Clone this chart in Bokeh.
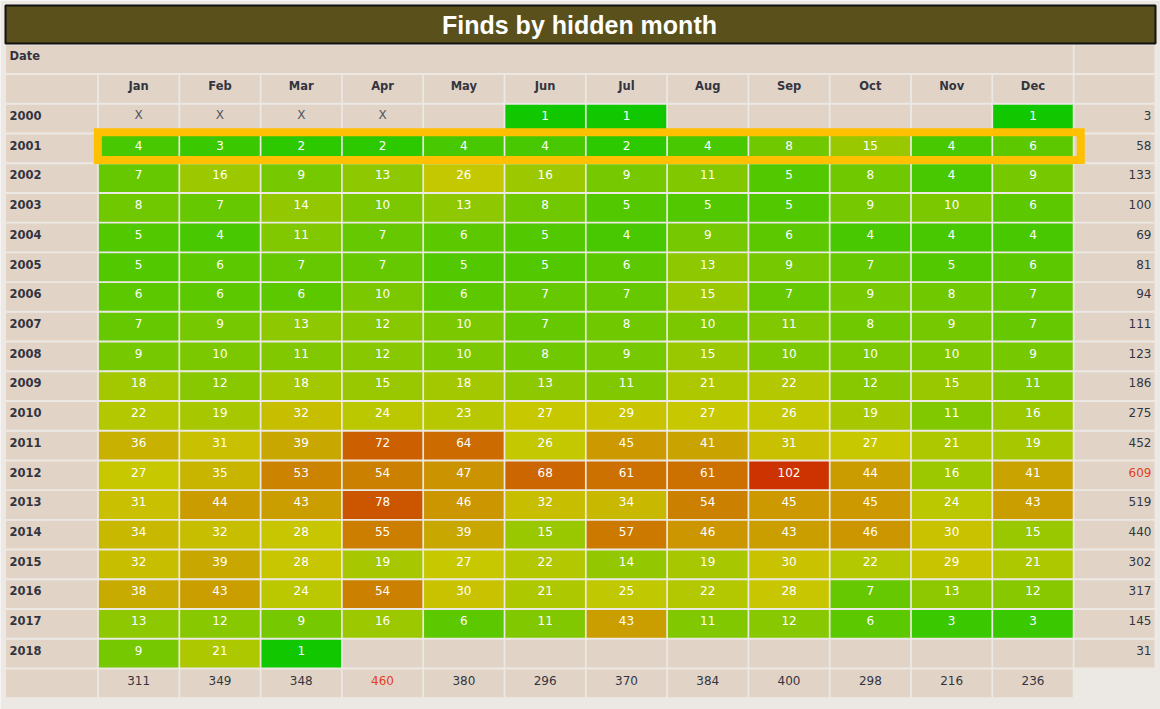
import numpy as np
from bokeh.plotting import figure
from bokeh.models import ColumnDataSource, Range1d, LinearColorMapper
from bokeh.core.properties import value
from bokeh.embed import file_html
from bokeh.resources import INLINE

# ---------------- data ----------------
chart_title = "Finds by hidden month"
corner_label = "Date"
months = ["Jan", "Feb", "Mar", "Apr", "May", "Jun", "Jul", "Aug", "Sep", "Oct", "Nov", "Dec"]
years = ["2000", "2001", "2002", "2003", "2004", "2005", "2006", "2007", "2008", "2009",
         "2010", "2011", "2012", "2013", "2014", "2015", "2016", "2017", "2018"]
# None = no finds, "X" = not possible (before start)
finds_2000 = ["X", "X", "X", "X", None, 1, 1, None, None, None, None, 1]
finds_2001 = [4, 3, 2, 2, 4, 4, 2, 4, 8, 15, 4, 6]
finds_2002 = [7, 16, 9, 13, 26, 16, 9, 11, 5, 8, 4, 9]
finds_2003 = [8, 7, 14, 10, 13, 8, 5, 5, 5, 9, 10, 6]
finds_2004 = [5, 4, 11, 7, 6, 5, 4, 9, 6, 4, 4, 4]
finds_2005 = [5, 6, 7, 7, 5, 5, 6, 13, 9, 7, 5, 6]
finds_2006 = [6, 6, 6, 10, 6, 7, 7, 15, 7, 9, 8, 7]
finds_2007 = [7, 9, 13, 12, 10, 7, 8, 10, 11, 8, 9, 7]
finds_2008 = [9, 10, 11, 12, 10, 8, 9, 15, 10, 10, 10, 9]
finds_2009 = [18, 12, 18, 15, 18, 13, 11, 21, 22, 12, 15, 11]
finds_2010 = [22, 19, 32, 24, 23, 27, 29, 27, 26, 19, 11, 16]
finds_2011 = [36, 31, 39, 72, 64, 26, 45, 41, 31, 27, 21, 19]
finds_2012 = [27, 35, 53, 54, 47, 68, 61, 61, 102, 44, 16, 41]
finds_2013 = [31, 44, 43, 78, 46, 32, 34, 54, 45, 45, 24, 43]
finds_2014 = [34, 32, 28, 55, 39, 15, 57, 46, 43, 46, 30, 15]
finds_2015 = [32, 39, 28, 19, 27, 22, 14, 19, 30, 22, 29, 21]
finds_2016 = [38, 43, 24, 54, 30, 21, 25, 22, 28, 7, 13, 12]
finds_2017 = [13, 12, 9, 16, 6, 11, 43, 11, 12, 6, 3, 3]
finds_2018 = [9, 21, 1, None, None, None, None, None, None, None, None, None]
year_totals = [3, 58, 133, 100, 69, 81, 94, 111, 123, 186, 275, 452, 609, 519, 440, 302, 317, 145, 31]
month_totals = [311, 349, 348, 460, 380, 296, 370, 384, 400, 298, 216, 236]
highlight_year = "2001"

finds = [finds_2000, finds_2001, finds_2002, finds_2003, finds_2004, finds_2005, finds_2006,
         finds_2007, finds_2008, finds_2009, finds_2010, finds_2011, finds_2012, finds_2013,
         finds_2014, finds_2015, finds_2016, finds_2017, finds_2018]

# ---------------- styles ----------------
BG = "#ece9e5"
TAN = "#e1d4c7"
DARK = "#343440"
RED = "#e2401c"
FONT = "DejaVu Sans"

stop_vals = [1, 2, 4, 8, 15, 20, 27, 32, 39, 45, 54, 61, 72, 78, 102]
stop_cols = [(17, 200, 0), (44, 200, 0), (72, 200, 0), (112, 200, 0), (153, 200, 0),
             (170, 200, 0), (200, 200, 0), (200, 190, 0), (200, 168, 0), (204, 153, 0),
             (204, 128, 0), (204, 112, 0), (204, 96, 0), (204, 85, 0), (204, 51, 0)]
palette = []
for v in range(1, 103):
    rgb = [int(round(np.interp(v, stop_vals, [c[k] for c in stop_cols]))) for k in range(3)]
    palette.append("#%02x%02x%02x" % tuple(rgb))
mapper = LinearColorMapper(palette=palette, low=0.5, high=102.5)

# ---------------- geometry ----------------
ROW_TOP0, ROW_PITCH, ROW_H = 44.8, 29.72, 27.8
COL_X0, COL_PITCH, COL_W = 98.35, 81.3, 79.6
LAB_L, LAB_R = 5.5, 96.6
TOT_L, TOT_R = 1074.0, 1154.0
TXT_DY = -3.2


def row_top(i):
    return ROW_TOP0 + ROW_PITCH * i


def row_mid(i):
    return row_top(i) + ROW_H / 2 + TXT_DY


def col_left(j):
    return COL_X0 + COL_PITCH * j


def col_mid(j):
    return col_left(j) + COL_W / 2


p = figure(width=1160, height=709, x_range=Range1d(0, 1160), y_range=Range1d(709, 0),
           output_backend="svg", toolbar_location=None, min_border=0)
p.axis.visible = False
p.grid.visible = False
p.outline_line_color = None
p.background_fill_color = BG
p.border_fill_color = BG

# title bar
p.quad(left=[5], right=[1155], top=[5], bottom=[43], fill_color="#59501b",
       line_color="#111111", line_width=2)
p.text(x=[579], y=[24], text=[chart_title], text_align="center", text_baseline="middle",
       text_color="white", text_font=value("Liberation Sans"), text_font_style="bold",
       text_font_size="25px")

# plain tan cells
tan = dict(left=[], right=[], top=[], bottom=[])


def add_tan(l, r, i):
    tan["left"].append(l)
    tan["right"].append(r)
    tan["top"].append(row_top(i))
    tan["bottom"].append(row_top(i) + ROW_H)


# Date row (row 0): label+months merged, and total col
add_tan(LAB_L, col_left(11) + COL_W, 0)
add_tan(TOT_L, TOT_R, 0)
# header row (row 1)
add_tan(LAB_L, LAB_R, 1)
for j in range(12):
    add_tan(col_left(j), col_left(j) + COL_W, 1)
add_tan(TOT_L, TOT_R, 1)

col_cells = dict(left=[], right=[], top=[], bottom=[], v=[])
val_txt = dict(x=[], y=[], t=[])
x_txt = dict(x=[], y=[], t=[])
for yi, (yr, row) in enumerate(zip(years, finds)):
    i = yi + 2
    add_tan(LAB_L, LAB_R, i)
    add_tan(TOT_L, TOT_R, i)
    for j, v in enumerate(row):
        if isinstance(v, (int, float)):
            col_cells["left"].append(col_left(j))
            col_cells["right"].append(col_left(j) + COL_W)
            col_cells["top"].append(row_top(i))
            col_cells["bottom"].append(row_top(i) + ROW_H)
            col_cells["v"].append(v)
            val_txt["x"].append(col_mid(j))
            val_txt["y"].append(row_mid(i))
            val_txt["t"].append(str(v))
        else:
            add_tan(col_left(j), col_left(j) + COL_W, i)
            if v == "X":
                x_txt["x"].append(col_mid(j))
                x_txt["y"].append(row_mid(i))
                x_txt["t"].append("X")

tot_row = len(years) + 2
add_tan(LAB_L, LAB_R, tot_row)
for j in range(12):
    add_tan(col_left(j), col_left(j) + COL_W, tot_row)

p.quad(source=ColumnDataSource(tan), left="left", right="right", top="top", bottom="bottom",
       fill_color=TAN, line_color=None)
p.quad(source=ColumnDataSource(col_cells), left="left", right="right", top="top", bottom="bottom",
       fill_color={"field": "v", "transform": mapper}, line_color=None)

# highlight of selected year
hi = years.index(highlight_year) + 2
p.quad(left=[col_left(0) - 1.0], right=[col_left(11) + COL_W + 8], top=[row_top(hi) - 2.3],
       bottom=[row_top(hi) + ROW_H - 2.3], fill_color=None, line_color="#ffc000", line_width=8,
       line_join="miter")

bold = dict(text_font=value(FONT), text_font_style="bold", text_font_size="11.5px",
            text_color=DARK, text_baseline="middle")
norm = dict(text_font=value(FONT), text_font_size="12px", text_baseline="middle")

p.text(x=[9], y=[row_mid(0)], text=[corner_label], text_align="left", **bold)
p.text(x=[col_mid(j) for j in range(12)], y=[row_mid(1)] * 12, text=months, text_align="center", **bold)
p.text(x=[9] * len(years), y=[row_mid(k + 2) for k in range(len(years))], text=years,
       text_align="left", **bold)

p.text(source=ColumnDataSource(val_txt), x="x", y="y", text="t", text_align="center",
       text_color="white", **norm)
p.text(source=ColumnDataSource(x_txt), x="x", y="y", text="t", text_align="center",
       text_color="#555560", **norm)

ymax = max(year_totals)
p.text(x=[TOT_R - 3] * len(years), y=[row_mid(k + 2) for k in range(len(years))],
       text=[str(t) for t in year_totals], text_align="right",
       text_color=[RED if t == ymax else DARK for t in year_totals], **norm)
mmax = max(month_totals)
p.text(x=[col_mid(j) for j in range(12)], y=[row_mid(tot_row)] * 12,
       text=[str(t) for t in month_totals], text_align="center",
       text_color=[RED if t == mmax else DARK for t in month_totals], **norm)

open("out.html", "w").write(file_html(p, INLINE))
